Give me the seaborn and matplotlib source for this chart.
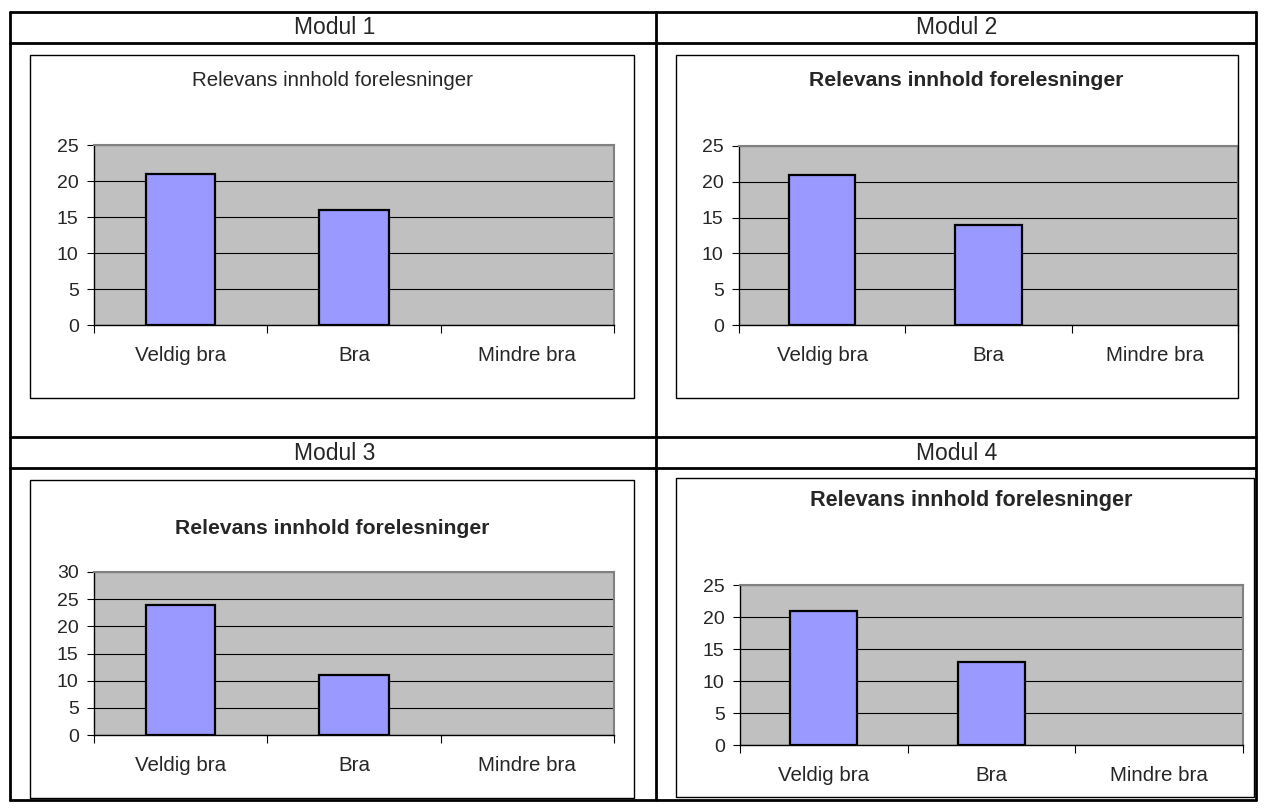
# Relevans innhold forelesninger - four modules in a table grid
import matplotlib
matplotlib.use("Agg")
import matplotlib.pyplot as plt
import seaborn as sns
import pandas as pd
from matplotlib.lines import Line2D
from matplotlib.patches import Rectangle

# ---- data ----
categories = ["Veldig bra", "Bra", "Mindre bra"]
modul1 = [21, 16, 0]
modul2 = [21, 14, 0]
modul3 = [24, 11, 0]
modul4 = [21, 13, 0]
moduler = ["Modul 1", "Modul 2", "Modul 3", "Modul 4"]
ymax = [25, 25, 30, 25]
title = "Relevans innhold forelesninger"

sns.set_theme(style="white")
plt.rcParams["font.family"] = ["Liberation Sans", "DejaVu Sans"]

W, H = 1266, 810
fig = plt.figure(figsize=(W / 100, H / 100), dpi=100)
fig.patch.set_facecolor("white")


def fx(x):
    return x / W


def fy(y):
    return 1 - y / H


def hline(x0, x1, y, lw=2.0):
    fig.add_artist(Line2D([fx(x0), fx(x1)], [fy(y), fy(y)], color="black", lw=lw))


def vline(x, y0, y1, lw=2.0):
    fig.add_artist(Line2D([fx(x), fx(x)], [fy(y0), fy(y1)], color="black", lw=lw))


# ---- table grid ----
hline(10, 1256, 12)
hline(10, 1256, 43)
hline(10, 1256, 437)
hline(10, 1256, 468)
hline(10, 1256, 800)
vline(10, 12, 800)
vline(656, 12, 800)
vline(1256, 12, 800)

header_font = 16.5
fig.text(fx(335), fy(28), moduler[0], ha="center", va="center", fontsize=header_font)
fig.text(fx(957), fy(28), moduler[1], ha="center", va="center", fontsize=header_font)
fig.text(fx(335), fy(453), moduler[2], ha="center", va="center", fontsize=header_font)
fig.text(fx(957), fy(453), moduler[3], ha="center", va="center", fontsize=header_font)

# chart boxes (x0, y0, x1, y1), plot areas (x0, y0, x1, y1), title position
boxes = [(30, 55, 634, 398), (676, 55, 1238, 398),
         (30, 480, 634, 798), (676, 478, 1254, 797)]
plots = [(94, 145, 614, 325), (739, 146, 1238, 325),
         (94, 572, 614, 735), (740, 585, 1243, 745)]
title_x = [332, 966, 332, 971]
title_y = [81, 81, 529, 501]
title_bold = [False, True, True, True]
title_size = [14.8, 15.2, 15.2, 15.6]
values = [modul1, modul2, modul3, modul4]

for i in range(4):
    bx0, by0, bx1, by1 = boxes[i]
    fig.add_artist(Rectangle((fx(bx0), fy(by1)), fx(bx1 - bx0), (by1 - by0) / H,
                             transform=fig.transFigure, fill=False,
                             edgecolor="black", lw=1.0))
    fig.text(fx(title_x[i]), fy(title_y[i]), title, ha="center", va="center",
             fontsize=title_size[i],
             fontweight="bold" if title_bold[i] else "normal")

    px0, py0, px1, py1 = plots[i]
    ax = fig.add_axes([fx(px0), fy(py1), fx(px1 - px0), (py1 - py0) / H])
    df = pd.DataFrame({"kategori": categories, "antall": values[i]})
    sns.barplot(data=df, x="kategori", y="antall", ax=ax, color="#9999FF",
                saturation=1, width=0.4, edgecolor="black", linewidth=1.6)
    # empty categories get no outline
    for p in ax.patches:
        if p.get_height() == 0:
            p.set_linewidth(0)

    ax.set_facecolor("#C0C0C0")
    ax.set_xlim(-0.5, 2.5)
    ax.set_ylim(0, ymax[i])
    ax.set_yticks(range(0, ymax[i] + 1, 5))
    ax.yaxis.grid(True, color="black", lw=0.8)
    ax.set_axisbelow(True)
    ax.set_xlabel("")
    ax.set_ylabel("")

    # category boundary ticks, labels in the middle
    ax.set_xticks([-0.5, 0.5, 1.5, 2.5])
    ax.set_xticklabels([])
    ax.set_xticks([0, 1, 2], minor=True)
    ax.set_xticklabels(categories, minor=True, fontsize=14.8)
    ax.tick_params(axis="x", which="major", direction="out", length=6,
                   width=0.8, color="black", bottom=True)
    ax.tick_params(axis="x", which="minor", length=0, pad=15, bottom=True)
    ax.tick_params(axis="y", direction="out", length=5, width=0.8,
                   color="black", labelsize=14, left=True, pad=6)

    for side in ["left", "bottom"]:
        ax.spines[side].set_color("black")
        ax.spines[side].set_linewidth(1.0)
    for side in ["top", "right"]:
        ax.spines[side].set_color("#808080")
        ax.spines[side].set_linewidth(1.5)

fig.savefig("out.png", dpi=100, facecolor="white")
